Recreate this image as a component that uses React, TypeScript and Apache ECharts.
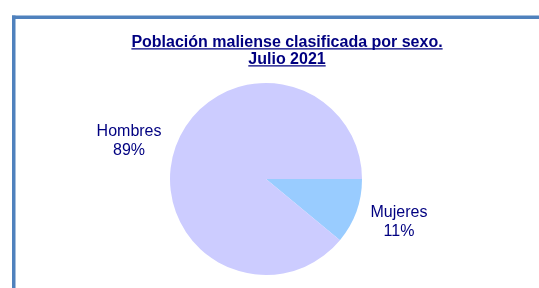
import React, { useEffect, useRef } from "react";
import * as echarts from "echarts";

const categories = ["Mujeres", "Hombres"];
const values = [11, 89];
const sliceColors = ["#99CCFF", "#CCCCFF"];
const titleLines = ["Población maliense clasificada por sexo.", "Julio 2021"];

const FONT = "'Liberation Sans', Arial, sans-serif";
const NAVY = "#000080";
const FRAME = "#4F81BD";
const labelPadding: Record<string, number[]> = {
  Mujeres: [8, 0, 0, 0],
  Hombres: [0, 0, 2, 0],
};

function measure(text: string, font: string): number {
  const c = document.createElement("canvas").getContext("2d") as CanvasRenderingContext2D;
  c.font = font;
  return c.measureText(text).width;
}

export default function App() {
  const ref = useRef<HTMLDivElement>(null);
  useEffect(() => {
    const chart = echarts.init(ref.current as HTMLDivElement, null, { renderer: "svg" });
    const titleFont = `bold 16px ${FONT}`;
    const titleX = 287;
    const w1 = measure(titleLines[0], titleFont);
    const w2 = measure(titleLines[1], titleFont);
    const labelFont = `16px ${FONT}`;
    const total = values.reduce((a, b) => a + b, 0);
    const W = chart.getWidth();
    const H = chart.getHeight();
    const data = categories.map((name, i) => {
      const pct = Math.round((values[i] / total) * 100);
      const w = Math.ceil(Math.max(measure(name, labelFont), measure(pct + "%", labelFont)));
      return {
        name,
        value: values[i],
        itemStyle: { color: sliceColors[i] },
        label: {
          padding: labelPadding[name],
          rich: {
            t: { width: w, align: "center", fontSize: 16, lineHeight: 19, color: NAVY, fontFamily: FONT },
          },
        },
      };
    });
    chart.setOption({
      animation: false,
      title: {
        text: titleLines.join("\n"),
        left: titleX,
        textAlign: "center",
        top: 33,
        padding: 0,
        textStyle: { fontFamily: FONT, fontSize: 16, fontWeight: "bold", color: NAVY, lineHeight: 17 },
      },
      graphic: [
        {
          type: "rect",
          silent: true,
          shape: { x: 12, y: 15.5, width: 3.5, height: H - 15.5 },
          style: { fill: FRAME },
        },
        {
          type: "rect",
          silent: true,
          shape: { x: 12, y: 15.5, width: W - 12, height: 3.5 },
          style: { fill: FRAME },
        },
        {
          type: "rect",
          silent: true,
          shape: { x: titleX - w1 / 2, y: 48.3, width: w1, height: 1.3 },
          style: { fill: NAVY },
        },
        {
          type: "rect",
          silent: true,
          shape: { x: titleX - w2 / 2, y: 65.3, width: w2, height: 1.3 },
          style: { fill: NAVY },
        },
      ],
      series: [
        {
          type: "pie",
          center: [266, 179],
          radius: 96,
          startAngle: 0,
          clockwise: true,
          data,
          itemStyle: { borderWidth: 0 },
          label: {
            show: true,
            position: "outside",
            formatter: "{t|{b}}\n{t|{d}%}",
            distanceToLabelLine: 0,
            fontFamily: FONT,
            fontSize: 16,
            color: NAVY,
          },
          labelLine: { show: false, length: 15, length2: 0 },
          emphasis: { disabled: true },
        },
      ],
    });
    return () => chart.dispose();
  }, []);
  return <div ref={ref} style={{ position: "fixed", left: 0, top: 0, width: 539, height: 288 }} />;
}
